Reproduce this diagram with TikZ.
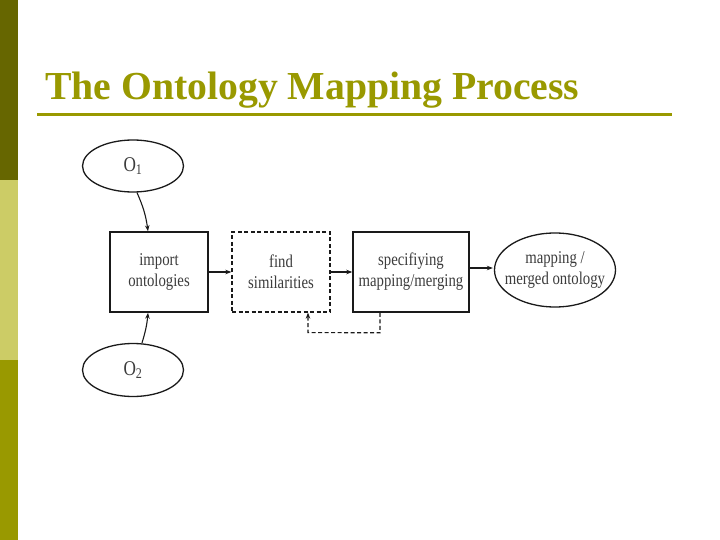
\documentclass[tikz,border=0pt]{standalone}
\usepackage{fontspec}
\setmainfont{Liberation Serif}
\newfontfamily\condfont[FakeStretch=0.82]{Liberation Serif}
\usetikzlibrary{shapes.geometric,arrows.meta,calc}
\definecolor{olivedark}{HTML}{666600}
\definecolor{olivelight}{HTML}{CCCC66}
\definecolor{olivemid}{HTML}{999900}
\definecolor{ink}{HTML}{1A1A1A}
\begin{document}
\begin{tikzpicture}[x=1pt,y=-1pt,
  lbl/.style={font=\condfont\fontsize{18}{21}\selectfont, text=ink!85, align=center, inner sep=0pt},
  ell/.style={ellipse, draw=ink, line width=1.3pt, inner sep=0pt},
  box/.style={rectangle, draw=ink, line width=1.5pt, inner sep=0pt},
  dbox/.style={rectangle, draw=ink, line width=1.3pt, dashed, dash pattern=on 4pt off 2.5pt, inner sep=0pt},
  arr/.style={draw=ink, line width=1.1pt, -{Stealth[length=6pt,width=4.5pt]}},
]
\useasboundingbox (0,0) rectangle (720,540);
\fill[white] (0,0) rectangle (720,540);
% left bar
\fill[olivedark] (0,0) rectangle (18,180);
\fill[olivelight] (0,180) rectangle (18,360);
\fill[olivemid] (0,360) rectangle (18,540);
% title
\node[anchor=base west, inner sep=0pt, text=olivemid, font=\fontsize{39.7}{42}\selectfont\bfseries] (title) at (45,100) {The Ontology Mapping Process};
\draw[olivemid, line width=3pt] (37,115) -- (672,115);
% nodes
\node[ell, minimum width=101pt, minimum height=52pt, font=\condfont\fontsize{21}{22}\selectfont, text=ink!85] (o1) at (133,166) {O\textsubscript{1}};
\node[ell, minimum width=101pt, minimum height=53pt, font=\condfont\fontsize{21}{22}\selectfont, text=ink!85] (o2) at (133,370) {O\textsubscript{2}};
\node[box, minimum width=98pt, minimum height=80pt] (imp) at (159,272) {};
\node[lbl] (impl) at (imp) {import\\ontologies};
\node[dbox, minimum width=98pt, minimum height=80pt] (find) at (281,272) {};
\node[lbl] (findl) at (find) {find\\similarities};
\node[box, minimum width=116pt, minimum height=80pt] (spec) at (411,272) {};
\node[lbl] (specl) at (spec) {specifiying\\mapping/merging};
\node[ell, minimum width=121pt, minimum height=74pt] (out) at (555,270) {};
\node[lbl] (outl) at (out) {mapping /\\merged ontology};
% connectors
\draw[arr] ($(o1.south)+(4,0)$) to[bend left=8] ($(imp.north)+(-11,0)$);
\draw[arr] ($(o2.north)+(9,0)$) to[bend right=6] ($(imp.south)+(-11,0)$);
\draw[arr] (imp.east) -- (find.west);
\draw[arr] (find.east) -- (spec.west);
\draw[arr] ($(spec.east)+(0,-4)$) -- ($(out.west)+(-1,-2)$);
\coordinate (fb1) at ($(spec.south)+(-31,20)$);
\coordinate (fb2) at ($(find.south)+(27,20)$);
\draw[arr, dashed, dash pattern=on 4pt off 2.5pt] ($(spec.south)+(-31,0)$) -- (fb1) -- (fb2) -- ($(find.south)+(27,0)$);
\end{tikzpicture}
\end{document}
